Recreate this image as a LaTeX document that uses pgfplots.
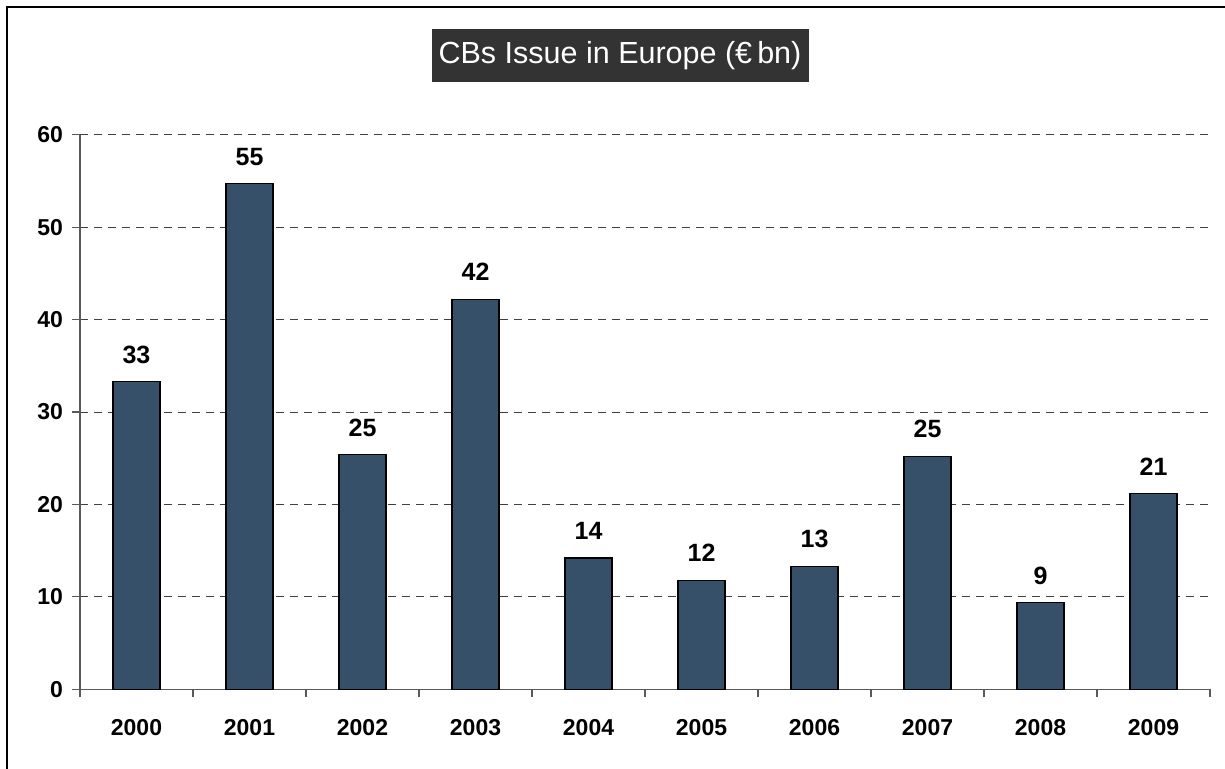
\documentclass[border=0pt]{standalone}
\usepackage{pgfplots}
\pgfplotsset{compat=1.18}
\usepackage{fontspec}
\setmainfont{Liberation Sans}
\definecolor{barblue}{HTML}{375069}
\definecolor{titlebg}{HTML}{333333}
\definecolor{gridgray}{HTML}{404040}
\begin{document}
\begin{tikzpicture}
\useasboundingbox (0,0) rectangle (612.5pt,384pt);
\draw[line width=1pt] (3.65pt,-5pt) -- (3.65pt,380.65pt) -- (620pt,380.65pt);
\begin{axis}[
  at={(40pt,39.35pt)}, anchor=south west,
  scale only axis, width=565pt, height=277.3pt,
  xmin=-0.5, xmax=9.5, ymin=0, ymax=60,
  axis x line=bottom, axis y line=left,
  axis line style={-, black!65, line width=0.6pt},
  xtick={0,1,2,3,4,5,6,7,8,9},
  xticklabels={2000,2001,2002,2003,2004,2005,2006,2007,2008,2009},
  major x tick style={draw=none},
  minor xtick={-0.5,0.5,...,9.5},
  ytick={0,10,20,30,40,50,60},
  tick align=outside, major tick length=4pt, minor tick length=4pt,
  tick style={black!65, line width=0.6pt},
  ymajorgrids,
  grid style={gridgray, line width=0.5pt, dash pattern=on 4pt off 3pt},
  /pgf/number format/assume math mode=true,
  ticklabel style={font=\bfseries\fontsize{11.5}{13}\selectfont},
  xticklabel style={yshift=-7.5pt},
  yticklabel style={xshift=-1pt},
  ybar, bar width=23.5pt, bar shift=0pt,
  nodes near coords={\pgfmathprintnumber[fixed,precision=0]{\pgfplotspointmeta}},
  every node near coord/.append style={font=\bfseries\fontsize{12.5}{14}\selectfont, anchor=center, yshift=13.5pt, text=black},
  clip=false,
]
\addplot[fill=barblue, draw=black, line width=0.6pt] coordinates {
(0,33.3) (1,54.7) (2,25.4) (3,42.2) (4,14.2) (5,11.8) (6,13.3) (7,25.2) (8,9.4) (9,21.2)
};
\end{axis}
\node[fill=titlebg, text=white, font=\fontsize{15.25}{18}\selectfont, minimum width=188.5pt, minimum height=26.5pt, inner sep=0pt] at (310pt,356.35pt) {CBs Issue in Europe (€\,bn)};
\end{tikzpicture}
\end{document}
